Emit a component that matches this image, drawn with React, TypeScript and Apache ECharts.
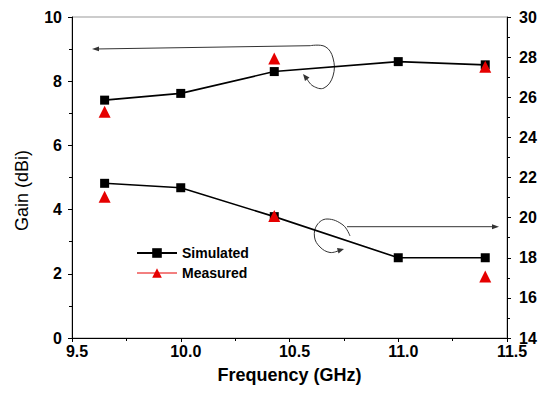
import React, { useEffect, useRef } from "react";
import * as echarts from "echarts";

// Upper curves (left axis, Gain dBi)
const freqSim = [9.65, 10.0, 10.43, 11.0, 11.4];
const gainSim = [7.41, 7.62, 8.3, 8.61, 8.51];
const freqMeas = [9.65, 10.43, 11.4];
const gainMeas = [7.05, 8.71, 8.45];
// Lower curves (right axis)
const rightSim = [21.71, 21.49, 20.05, 18.0, 18.0];
const rightMeas = [21.04, 20.08, 17.06];

const FONT = "Liberation Sans, Arial, Helvetica, sans-serif";
const RED = "#e60000";

export default function App() {
  const ref = useRef<HTMLDivElement>(null);
  useEffect(() => {
    if (!ref.current) return;
    const chart = echarts.init(ref.current, undefined, { renderer: "svg" });
    const pair = (xs: number[], ys: number[]) => xs.map((x, i) => [x, ys[i]]);
    const axisCommon = {
      axisLine: { show: true, lineStyle: { color: "#000", width: 1 } },
      axisTick: { show: true, inside: false, length: 4, lineStyle: { color: "#000" } },
      minorTick: { show: true, splitNumber: 2, length: 3, lineStyle: { color: "#000" } },
      splitLine: { show: false },
      axisLabel: { color: "#000", fontFamily: FONT, fontWeight: "bold", fontSize: 16, lineHeight: 13 },
    };
    const gray = "#333";
    chart.setOption({
      animation: false,
      backgroundColor: "#fff",
      grid: { left: 72, right: 33, top: 17, bottom: 58, show: true, borderColor: "#999", borderWidth: 1 },
      legend: {
        orient: "vertical",
        left: 136,
        top: 246,
        padding: 0,
        itemWidth: 40,
        itemHeight: 12,
        itemGap: 6,
        textStyle: { color: "#000", fontFamily: FONT, fontWeight: "bold", fontSize: 14 },
        data: [
          { name: "Simulated" },
          { name: "Measured", lineStyle: { color: RED, width: 1, opacity: 1 } },
        ],
      },
      xAxis: {
        type: "value",
        min: 9.5,
        max: 11.5,
        interval: 0.5,
        ...axisCommon,
        axisLabel: {
          ...axisCommon.axisLabel,
          margin: 7,
          padding: [0, 0, 0, 10],
          formatter: (v: number) => v.toFixed(1),
        },
        name: "Frequency (GHz)",
        nameLocation: "middle",
        nameGap: 28,
        nameTextStyle: { color: "#000", fontFamily: FONT, fontWeight: "bold", fontSize: 18 },
      },
      yAxis: [
        {
          type: "value",
          min: 0,
          max: 10,
          interval: 2,
          position: "left",
          ...axisCommon,
          axisLabel: { ...axisCommon.axisLabel, margin: 10 },
          name: "Gain (dBi)",
          nameLocation: "middle",
          nameGap: 41,
          nameTextStyle: { color: "#000", fontFamily: FONT, fontSize: 18, padding: [0, 26, 0, 0] },
        },
        {
          type: "value",
          min: 14,
          max: 30,
          interval: 2,
          position: "right",
          ...axisCommon,
          axisLabel: { ...axisCommon.axisLabel, margin: 12 },
        },
      ],
      series: [
        {
          name: "Simulated",
          type: "line",
          yAxisIndex: 0,
          data: pair(freqSim, gainSim),
          symbol: "rect",
          symbolSize: 9,
          itemStyle: { color: "#000" },
          lineStyle: { color: "#000", width: 1.6 },
          z: 2,
        },
        {
          name: "Simulated",
          type: "line",
          yAxisIndex: 1,
          data: pair(freqSim, rightSim),
          symbol: "rect",
          symbolSize: 9,
          itemStyle: { color: "#000" },
          lineStyle: { color: "#000", width: 1.6 },
          z: 2,
        },
        {
          name: "Measured",
          type: "line",
          yAxisIndex: 0,
          data: pair(freqMeas, gainMeas),
          symbol: "triangle",
          symbolSize: 12,
          itemStyle: { color: RED },
          lineStyle: { width: 0, opacity: 0 },
          z: 3,
        },
        {
          name: "Measured",
          type: "line",
          yAxisIndex: 1,
          data: pair(freqMeas, rightMeas),
          symbol: "triangle",
          symbolSize: 12,
          itemStyle: { color: RED },
          lineStyle: { width: 0, opacity: 0 },
          z: 3,
        },
      ],
      graphic: [
        // upper arrow pointing to left axis
        { type: "line", shape: { x1: 95, y1: 49, x2: 310, y2: 45.7 }, style: { stroke: gray, lineWidth: 1 } },
        { type: "polygon", shape: { points: [[92, 49], [99, 46.5], [99, 51.3]] }, style: { fill: gray } },
        {
          type: "polyline",
          shape: {
            points: [[310, 45.7], [325, 46.5], [333, 58], [333, 76], [324, 88], [313, 86], [307, 79]],
            smooth: 0.4,
          },
          style: { stroke: gray, lineWidth: 1, fill: null },
        },
        { type: "polygon", shape: { points: [[303, 74], [305, 81], [309.5, 77.5]] }, style: { fill: gray } },
        // lower arrow pointing to right axis
        { type: "line", shape: { x1: 347, y1: 226.7, x2: 495, y2: 226.7 }, style: { stroke: gray, lineWidth: 1 } },
        { type: "polygon", shape: { points: [[499, 226.7], [492, 224.2], [492, 229.2]] }, style: { fill: gray } },
        {
          type: "polyline",
          shape: {
            points: [[350, 236], [343, 225], [327, 219], [317, 225], [314.5, 237], [320, 247], [330, 252.5], [339, 250.5]],
            smooth: 0.4,
          },
          style: { stroke: gray, lineWidth: 1, fill: null },
        },
        { type: "polygon", shape: { points: [[344, 249], [337, 248], [338.5, 253.5]] }, style: { fill: gray } },
      ],
    });
    return () => chart.dispose();
  }, []);
  return (
    <div
      ref={ref}
      style={{ position: "absolute", left: 0, top: 0, width: 540, height: 396 }}
    />
  );
}
